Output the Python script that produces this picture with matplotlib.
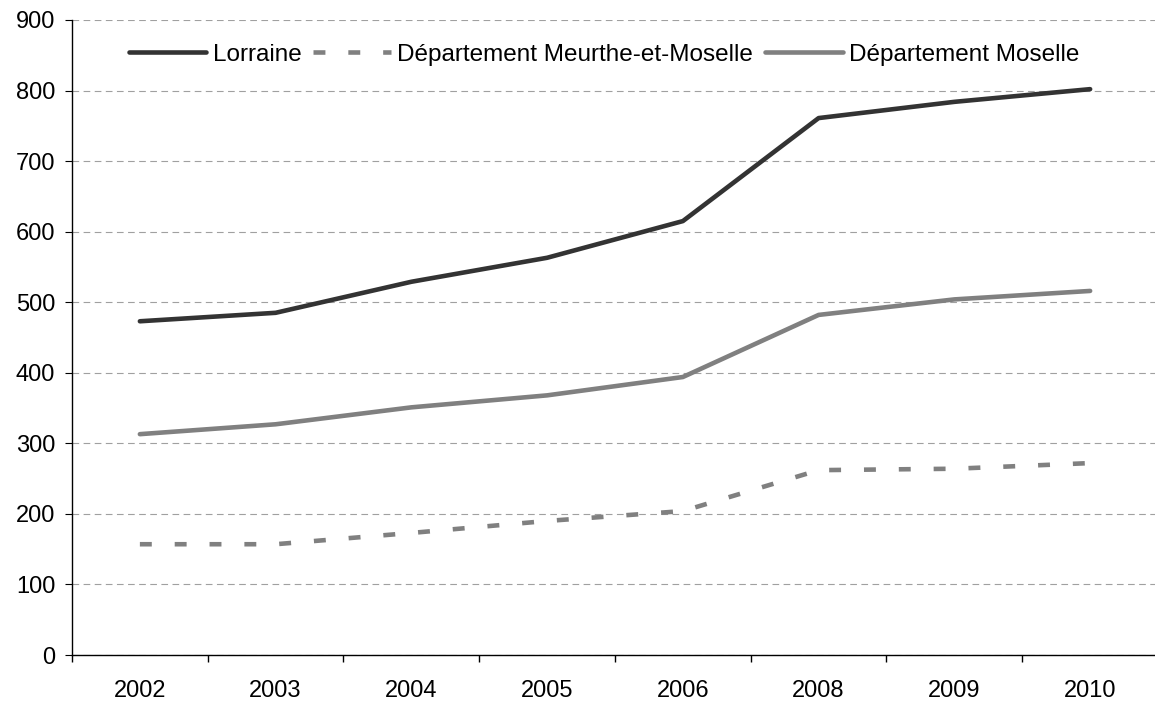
import numpy as np
import matplotlib.pyplot as plt
from matplotlib.ticker import FixedLocator, NullFormatter

plt.rcParams['font.family'] = ['Liberation Sans', 'DejaVu Sans']

# data
years = ["2002", "2003", "2004", "2005", "2006", "2008", "2009", "2010"]
lorraine = [473, 485, 529, 563, 615, 761, 784, 802]
meurthe = [157, 157, 173, 190, 204, 262, 264, 272]
moselle = [313, 327, 351, 368, 394, 482, 504, 516]

x = np.arange(len(years))

fig = plt.figure(figsize=(11.55, 7.05), dpi=100)
ax = fig.add_axes([72 / 1155, 50 / 705, 1086 / 1155, 635 / 705])

ax.plot(x, lorraine, color="#333333", lw=3.3, solid_capstyle="round", label="Lorraine")
ax.plot(x, meurthe, color="#808080", lw=3.3, dashes=(2.6, 5), dash_capstyle="butt",
        label="Département Meurthe-et-Moselle")
ax.plot(x, moselle, color="#808080", lw=3.3, solid_capstyle="round", label="Département Moselle")

ax.set_xlim(-0.5, len(years) - 0.5)
ax.set_ylim(0, 900)
ax.set_yticks(range(0, 901, 100))
ax.set_xticks(x)
ax.set_xticklabels(years)
ax.xaxis.set_minor_locator(FixedLocator(np.arange(-0.5, len(years), 1)))
ax.xaxis.set_minor_formatter(NullFormatter())
ax.tick_params(axis="x", which="major", length=0, pad=18, labelsize=17)
ax.tick_params(axis="x", which="minor", length=5, direction="out", width=1)
ax.tick_params(axis="y", length=5, direction="out", labelsize=17, pad=7)

ax.grid(axis="y", color="#a0a0a0", linestyle=(0, (6, 4)), lw=0.8)
ax.set_axisbelow(True)
for side in ["top", "right"]:
    ax.spines[side].set_visible(False)
for side in ["left", "bottom"]:
    ax.spines[side].set_color("#000000")
    ax.spines[side].set_linewidth(1)

ax.legend(loc="upper center", bbox_to_anchor=(0.49, 0.997), ncol=3, frameon=False,
          fontsize=17.5, handlelength=3.2, handletextpad=0.25, columnspacing=0.5)

fig.savefig("out.png", dpi=100)
